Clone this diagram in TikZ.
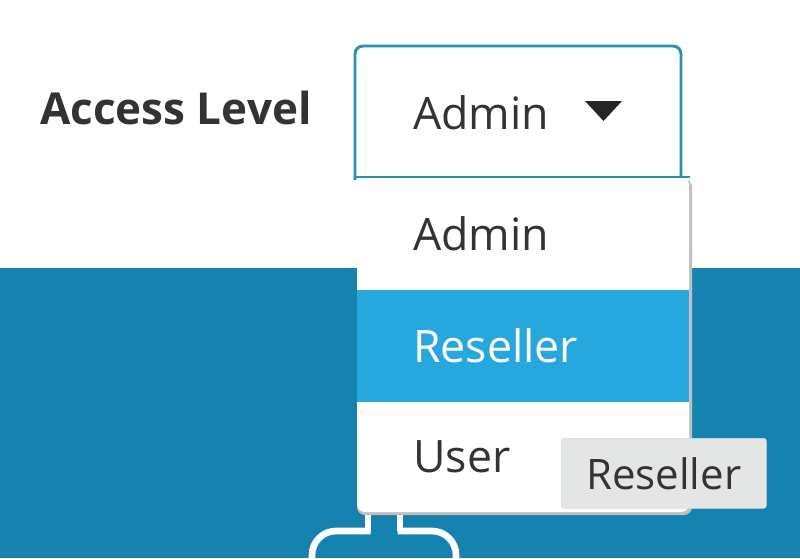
\documentclass[tikz,border=0pt]{standalone}
\usepackage{fontspec}
\setmainfont{Open Sans}
\begin{document}
\begin{tikzpicture}[x=0.75pt,y=-0.75pt,
  lbl/.style={anchor=west,font=\fontsize{33.5}{40}\selectfont,text=black!80,inner sep=0},
  boxline/.style={draw=boxblue,line width=2.2}]
\definecolor{band}{RGB}{22,130,176}
\definecolor{boxblue}{RGB}{42,143,184}
\definecolor{hl}{RGB}{38,168,223}
\definecolor{tip}{RGB}{228,230,230}
\useasboundingbox (0,0) rectangle (800,558);
\fill[white] (0,0) rectangle (800,558);
\fill[band] (0,268) rectangle (800,558);
% hook icon
\draw[white,line width=5] (368,512) -- (368,531);
\draw[white,line width=5,rounded corners=18] (370.5,531) -- (312,531) -- (312,562);
\draw[white,line width=5] (400,512) -- (400,531);
\draw[white,line width=5,rounded corners=18] (397.5,531) -- (456,531) -- (456,562);
\node[font=\bfseries\fontsize{33}{40}\selectfont,text=black!80,anchor=west,inner sep=0] (title) at (40,108) {Access Level};
% select
\draw[boxline,fill=white,rounded corners=6] (355,180) -- (355,46) -- (681,46) -- (681,180);
\node[lbl] (sel) at (413,113) {Admin};
\fill[black!85] (585,101) -- (622,101) -- (603.5,121) -- cycle;
% dropdown
\fill[black!25,rounded corners=6] (357,179) rectangle (692,515);
\fill[white,rounded corners=6] (357,177) rectangle (689,512);
\fill[hl] (357,290) rectangle (689,402);
\draw[boxline] (355,177) -- (690,177);
\node[lbl] (o1) at (413,234) {Admin};
\node[lbl,text=white] (o2) at (413,346) {Reseller};
\node[lbl] (o3) at (413,457) {User};
% tooltip
\node[draw=black!15,fill=tip,rounded corners=2,minimum width=205*0.75pt,minimum height=70*0.75pt,anchor=north west,font=\fontsize{31.5}{38}\selectfont,text=black!80] (tt) at (561,438) {Reseller};
\end{tikzpicture}
\end{document}
